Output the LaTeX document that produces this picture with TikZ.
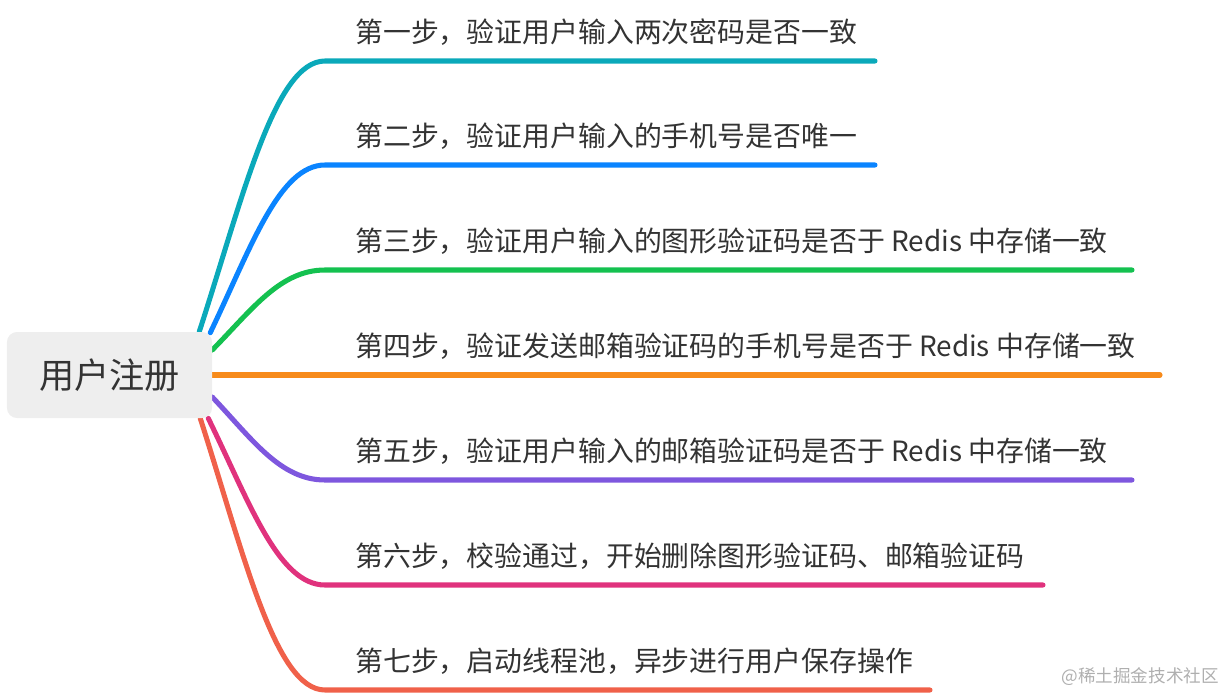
\documentclass[tikz,border=0pt]{standalone}
\usepackage{fontspec}
\setmainfont{Noto Sans CJK SC}
\usetikzlibrary{calc,backgrounds}

\definecolor{txtgray}{HTML}{333333}
\definecolor{rootgray}{HTML}{EEEEEE}
\definecolor{markgray}{HTML}{AFAFAF}
\definecolor{cTeal}{HTML}{0AA9BA}
\definecolor{cBlue}{HTML}{0A84FF}
\definecolor{cGreen}{HTML}{14C150}
\definecolor{cOrange}{HTML}{F78B1B}
\definecolor{cPurple}{HTML}{7E57DE}
\definecolor{cPink}{HTML}{E0327D}
\definecolor{cRed}{HTML}{F0614A}

\begin{document}
\begin{tikzpicture}[
  x=0.03cm, y=-0.03cm,
  root/.style={fill=rootgray, rounded corners=8.5pt, minimum width=6.15cm,
               minimum height=2.58cm, text=txtgray,
               font=\fontsize{30}{34}\selectfont},
  steptext/.style={anchor=base west, inner sep=0pt, text=txtgray,
                   font=\fontsize{23.8}{28}\selectfont},
  branch/.style={line width=4.3pt, line cap=round},
  watermark/.style={anchor=east, inner sep=0pt, text=markgray,
                    font=\fontsize{15}{18}\selectfont}
]
\useasboundingbox (0,0) rectangle (1228,694);

% Root topic
\node[root] (root) at (109.5,375) {用户注册};

% Where the branches leave the root
\coordinate (s1) at ($(root.north east)+(-13,0)$);
\coordinate (s2) at ($(root.north east)+(-2,1)$);
\coordinate (s3) at ($(root.east)+(0,-25)$);
\coordinate (s4) at (root.east);
\coordinate (s5) at ($(root.east)+(0,22)$);
\coordinate (s6) at ($(root.south east)+(-4,0)$);
\coordinate (s7) at ($(root.south east)+(-12,0)$);

% Steps
\foreach \i/\ly/\xe/\col/\txt in {
  1/61/875/cTeal/{第一步，验证用户输入两次密码是否一致},
  2/165/875/cBlue/{第二步，验证用户输入的手机号是否唯一},
  3/270/1132/cGreen/{第三步，验证用户输入的图形验证码是否于 Redis 中存储一致},
  4/375/1160/cOrange/{第四步，验证发送邮箱验证码的手机号是否于 Redis 中存储一致},
  5/480/1132/cPurple/{第五步，验证用户输入的邮箱验证码是否于 Redis 中存储一致},
  6/585/1043/cPink/{第六步，校验通过，开始删除图形验证码、邮箱验证码},
  7/690/930/cRed/{第七步，启动线程池，异步进行用户保存操作}} {
  \coordinate (a\i) at (325,\ly);
  \coordinate (b\i) at (\xe,\ly);
  \node[steptext] (t\i) at (355,\ly-19) {\txt};
  \begin{scope}[on background layer]
    \draw[branch, draw=\col] let \p1=(s\i), \p2=(a\i) in
      (s\i) .. controls ({\x1+0.35*(\x2-\x1)},{\y1+0.5*(\y2-\y1)})
      and ({\x1+0.6*(\x2-\x1)},\y2) .. (a\i) -- (b\i);
  \end{scope}
}

% Watermark
\node[watermark] (wm) at (1219,677) {@稀土掘金技术社区};

\end{tikzpicture}
\end{document}
